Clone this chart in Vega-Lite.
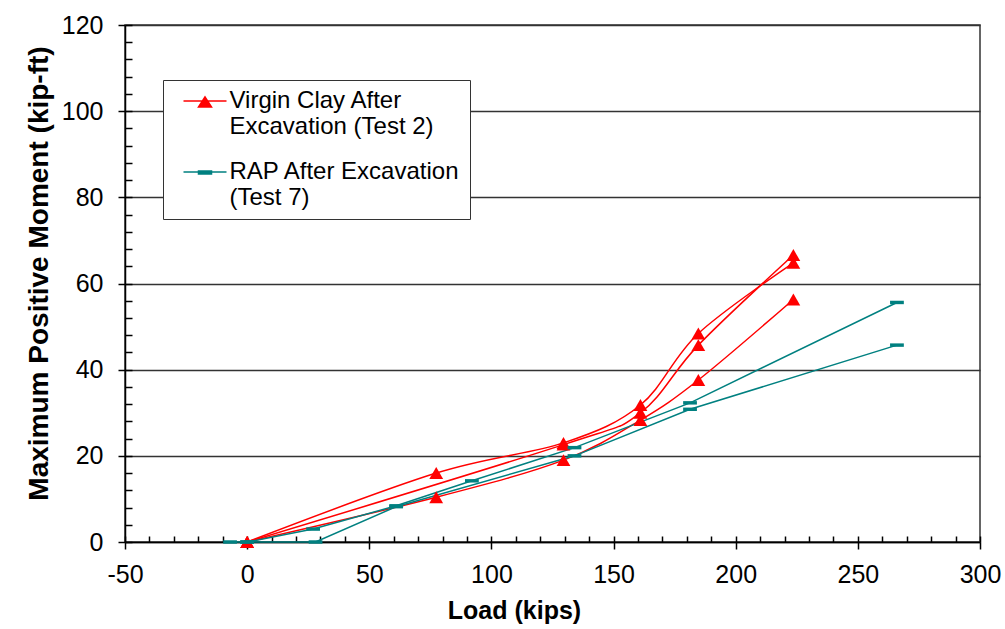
{
  "$schema": "https://vega.github.io/schema/vega-lite/v6.json",
  "width": 855,
  "height": 517,
  "autosize": "none",
  "padding": {"left": 125, "top": 25, "right": 25, "bottom": 87},
  "background": "white",
  "config": {"font": "Liberation Sans", "view": {"stroke": "#333333", "strokeWidth": 1.5}},
  "data": {"values": [
    {"series": "Virgin Clay After Excavation (Test 2)", "curve": "RA", "ord": 1, "load": 0, "moment": 0},
    {"series": "Virgin Clay After Excavation (Test 2)", "curve": "RA", "ord": 2, "load": 77.4, "moment": 16.0},
    {"series": "Virgin Clay After Excavation (Test 2)", "curve": "RA", "ord": 3, "load": 129.5, "moment": 23.0},
    {"series": "Virgin Clay After Excavation (Test 2)", "curve": "RA", "ord": 4, "load": 161, "moment": 31.8},
    {"series": "Virgin Clay After Excavation (Test 2)", "curve": "RA", "ord": 5, "load": 184.7, "moment": 48.4},
    {"series": "Virgin Clay After Excavation (Test 2)", "curve": "RA", "ord": 6, "load": 223.6, "moment": 64.8},
    {"series": "Virgin Clay After Excavation (Test 2)", "curve": "RB", "ord": 1, "load": 0, "moment": 0},
    {"series": "Virgin Clay After Excavation (Test 2)", "curve": "RB", "ord": 2, "load": 129.5, "moment": 22.6},
    {"series": "Virgin Clay After Excavation (Test 2)", "curve": "RB", "ord": 3, "load": 161, "moment": 30.0},
    {"series": "Virgin Clay After Excavation (Test 2)", "curve": "RB", "ord": 4, "load": 184.7, "moment": 45.7},
    {"series": "Virgin Clay After Excavation (Test 2)", "curve": "RB", "ord": 5, "load": 223.6, "moment": 66.6},
    {"series": "Virgin Clay After Excavation (Test 2)", "curve": "RC", "ord": 1, "load": 0, "moment": 0},
    {"series": "Virgin Clay After Excavation (Test 2)", "curve": "RC", "ord": 2, "load": 77.4, "moment": 10.4},
    {"series": "Virgin Clay After Excavation (Test 2)", "curve": "RC", "ord": 3, "load": 129.5, "moment": 19.0},
    {"series": "Virgin Clay After Excavation (Test 2)", "curve": "RC", "ord": 4, "load": 161, "moment": 28.3},
    {"series": "Virgin Clay After Excavation (Test 2)", "curve": "RC", "ord": 5, "load": 184.7, "moment": 37.6},
    {"series": "Virgin Clay After Excavation (Test 2)", "curve": "RC", "ord": 6, "load": 223.6, "moment": 56.3},
    {"series": "RAP After Excavation (Test 7)", "curve": "T1", "ord": 1, "load": -7, "moment": 0},
    {"series": "RAP After Excavation (Test 7)", "curve": "T1", "ord": 2, "load": 0, "moment": 0},
    {"series": "RAP After Excavation (Test 7)", "curve": "T1", "ord": 3, "load": 27, "moment": 3.0},
    {"series": "RAP After Excavation (Test 7)", "curve": "T1", "ord": 4, "load": 61, "moment": 8.4},
    {"series": "RAP After Excavation (Test 7)", "curve": "T1", "ord": 5, "load": 92, "moment": 14.2},
    {"series": "RAP After Excavation (Test 7)", "curve": "T1", "ord": 6, "load": 134, "moment": 21.9},
    {"series": "RAP After Excavation (Test 7)", "curve": "T1", "ord": 7, "load": 181.3, "moment": 32.3},
    {"series": "RAP After Excavation (Test 7)", "curve": "T1", "ord": 8, "load": 266, "moment": 55.6},
    {"series": "RAP After Excavation (Test 7)", "curve": "T2", "ord": 1, "load": 0, "moment": 0},
    {"series": "RAP After Excavation (Test 7)", "curve": "T2", "ord": 2, "load": 28, "moment": 0},
    {"series": "RAP After Excavation (Test 7)", "curve": "T2", "ord": 3, "load": 61, "moment": 8.2},
    {"series": "RAP After Excavation (Test 7)", "curve": "T2", "ord": 4, "load": 134, "moment": 20.0},
    {"series": "RAP After Excavation (Test 7)", "curve": "T2", "ord": 5, "load": 181.3, "moment": 30.8},
    {"series": "RAP After Excavation (Test 7)", "curve": "T2", "ord": 6, "load": 266, "moment": 45.7}
  ]},
  "layer": [
    {
      "transform": [{"filter": "datum.curve[0] == 'R'"}],
      "mark": {"type": "line", "interpolate": "cardinal", "strokeWidth": 1.5},
      "encoding": {
        "x": {"field": "load", "type": "quantitative", "scale": {"domain": [-50, 300], "nice": false, "zero": false},
          "axis": {"orient": "bottom", "values": [-50, 0, 50, 100, 150, 200, 250, 300], "labelExpr": "'' + datum.value",
            "title": "Load (kips)", "titleFontSize": 25, "titleFontWeight": "bold", "titleColor": "black",
            "titleX": 389, "titleY": 76, "titleBaseline": "alphabetic", "titleAlign": "center",
            "labelFontSize": 25, "labelColor": "black", "labelPadding": 13, "labelFlush": false, "labelOverlap": false,
            "tickSize": 7, "tickColor": "black", "tickWidth": 1.5, "domainColor": "black", "domainWidth": 1.5, "grid": false}},
        "y": {"field": "moment", "type": "quantitative", "scale": {"domain": [0, 120], "nice": false},
          "axis": {"orient": "left", "values": [0, 20, 40, 60, 80, 100, 120],
            "title": "Maximum Positive Moment (kip-ft)", "titleFontSize": 28, "titleFontWeight": "bold", "titleColor": "black",
            "titleX": -77.5, "titleY": 248, "titleBaseline": "alphabetic", "titleAlign": "center", "titleAngle": 270,
            "labelFontSize": 25, "labelColor": "black", "labelPadding": 15, "labelFlush": false, "labelOverlap": false,
            "tickSize": 7, "tickColor": "black", "tickWidth": 1.5, "domainColor": "black", "domainWidth": 1.5,
            "grid": true, "gridColor": "#333333", "gridWidth": 1.5}},
        "color": {"field": "series", "type": "nominal",
          "scale": {"domain": ["Virgin Clay After Excavation (Test 2)", "RAP After Excavation (Test 7)"], "range": ["#ff0000", "#008080"]},
          "legend": {"orient": "none", "legendX": 38, "legendY": 55, "title": null, "direction": "vertical",
            "strokeColor": "#333333", "fillColor": "white", "padding": 9, "symbolOffset": 21, "symbolSize": 400,
            "symbolStrokeWidth": 1.5, "symbolOpacity": 1, "labelFontSize": 24, "labelColor": "black", "labelLimit": 500, "labelOffset": 12.5, "rowPadding": 21,
            "labelExpr": "datum.value == 'Virgin Clay After Excavation (Test 2)' ? ['Virgin Clay After', 'Excavation (Test 2)'] : ['RAP After Excavation', '(Test 7)']",
            "encode": {"labels": {"lineHeight": {"value": 29.5}}}}},
        "detail": {"field": "curve"},
        "order": {"field": "ord", "type": "quantitative"}
      }
    },
    {
      "transform": [{"filter": "datum.curve[0] == 'T'"}],
      "mark": {"type": "line", "interpolate": "linear", "strokeWidth": 1.5},
      "encoding": {
        "x": {"field": "load", "type": "quantitative", "axis": null},
        "y": {"field": "moment", "type": "quantitative", "axis": null},
        "color": {"field": "series", "type": "nominal"},
        "detail": {"field": "curve"},
        "order": {"field": "ord", "type": "quantitative"}
      }
    },
    {
      "transform": [{"filter": "datum.curve[0] == 'R'"}],
      "mark": {"type": "point", "shape": "triangle-up", "filled": true, "opacity": 1, "size": 190, "strokeWidth": 0},
      "encoding": {
        "x": {"field": "load", "type": "quantitative",
          "axis": {"orient": "bottom", "values": [-50, -40, -30, -20, -10, 0, 10, 20, 30, 40, 50, 60, 70, 80, 90, 100, 110, 120, 130, 140, 150, 160, 170, 180, 190, 200, 210, 220, 230, 240, 250, 260, 270, 280, 290, 300],
            "tickSize": -6, "tickColor": "black", "tickWidth": 1.5, "labels": false, "domain": false, "grid": false, "title": null}},
        "y": {"field": "moment", "type": "quantitative",
          "axis": {"orient": "left", "values": [0, 4, 8, 12, 16, 20, 24, 28, 32, 36, 40, 44, 48, 52, 56, 60, 64, 68, 72, 76, 80, 84, 88, 92, 96, 100, 104, 108, 112, 116, 120],
            "tickSize": -7, "tickColor": "black", "tickWidth": 1.5, "labels": false, "domain": false, "grid": false, "title": null}},
        "color": {"field": "series", "type": "nominal"}
      }
    },
    {
      "transform": [{"filter": "datum.curve[0] == 'T'"}],
      "mark": {"type": "point", "shape": "M-1,-0.25H1V0.25H-1Z", "filled": true, "opacity": 1, "size": 190, "strokeWidth": 0},
      "encoding": {
        "x": {"field": "load", "type": "quantitative", "axis": null},
        "y": {"field": "moment", "type": "quantitative", "axis": null},
        "color": {"field": "series", "type": "nominal"}
      }
    },
    {
      "mark": {"type": "point", "filled": true, "opacity": 0, "size": 1, "strokeWidth": 1.5},
      "encoding": {
        "x": {"field": "load", "type": "quantitative", "axis": null},
        "y": {"field": "moment", "type": "quantitative", "axis": null},
        "color": {"field": "series", "type": "nominal"},
        "shape": {"field": "series", "type": "nominal",
          "scale": {"domain": ["Virgin Clay After Excavation (Test 2)", "RAP After Excavation (Test 7)"],
            "range": ["M-2.15,0H2.15M0,-0.4L0.65,0.6L-0.65,0.6Z", "M-2.15,0H2.15M-0.65,-0.1H0.65V0.2H-0.65Z"]}}
      }
    }
  ],
  "resolve": {"axis": {"x": "independent", "y": "independent"}}
}
